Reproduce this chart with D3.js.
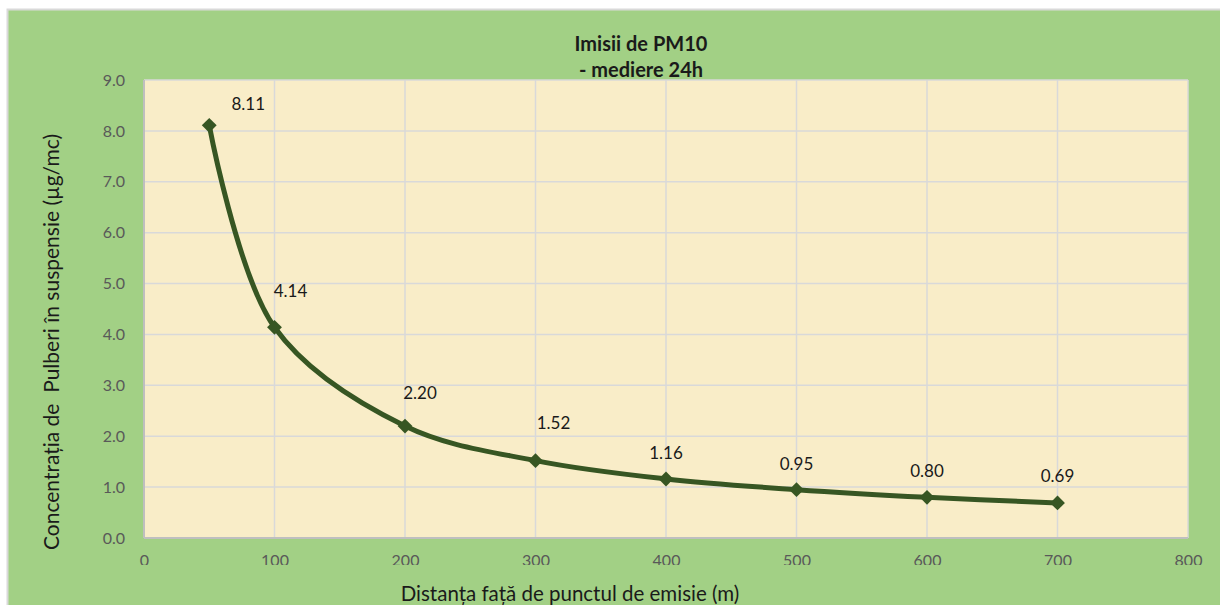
<!DOCTYPE html>
<html><head><meta charset="utf-8">
<script src="https://cdn.jsdelivr.net/npm/d3@7"></script>
<style>body{margin:0;background:#fff}</style>
</head><body>
<script>
const distances = [50, 100, 200, 300, 400, 500, 600, 700];
const concentrations = [8.11, 4.14, 2.20, 1.52, 1.16, 0.95, 0.80, 0.69];
const xTicks = [0, 100, 200, 300, 400, 500, 600, 700, 800];
const yTicks = [0, 1, 2, 3, 4, 5, 6, 7, 8, 9];
const titleLines = ["Imisii de PM10", "- mediere 24h"];
const xTitle = "Distanța față de punctul de emisie (m)";
const yTitle = "Concentrația de  Pulberi în suspensie (µg/mc)";
// label offsets (style only, pixels)
const labelDx = [39, 16, 15, 18, 0, 0, 0, 0];
const labelDy = [-21, -36, -33, -38, -26, -26, -26, -27];

const W = 1220, H = 605;
const svg = d3.select("body").append("svg").attr("width", W).attr("height", H)
  .style("font-family", "Lato, 'Open Sans', sans-serif");

svg.append("rect").attr("x", 7.5).attr("y", 9.5).attr("width", W).attr("height", H)
  .attr("fill", "#a2d085").attr("stroke", "#d9d9d9").attr("stroke-width", 2);

const L = 144, R = 1188, T = 80, B = 538;
const x = d3.scaleLinear().domain([0, 800]).range([L, R]);
const y = d3.scaleLinear().domain([0, 9]).range([B, T]);

svg.append("rect").attr("x", L).attr("y", T).attr("width", R - L).attr("height", B - T).attr("fill", "#f9edc8");

// gridlines
svg.append("g").selectAll("line").data(yTicks).join("line")
  .attr("x1", L).attr("x2", R).attr("y1", d => y(d)).attr("y2", d => y(d))
  .attr("stroke", "#d9d9d9").attr("stroke-width", 1.5);
svg.append("g").selectAll("line").data(xTicks).join("line")
  .attr("y1", T).attr("y2", B).attr("x1", d => x(d)).attr("x2", d => x(d))
  .attr("stroke", "#d9d9d9").attr("stroke-width", 1.5);
// axis lines
svg.append("line").attr("x1", L).attr("x2", R).attr("y1", B).attr("y2", B).attr("stroke", "#bfbfbf").attr("stroke-width", 2);
svg.append("line").attr("x1", L).attr("x2", L).attr("y1", T).attr("y2", B).attr("stroke", "#bfbfbf").attr("stroke-width", 2);

// axes via d3 axis generators
const yAxis = svg.append("g").attr("transform", `translate(${L},0)`)
  .call(d3.axisLeft(y).tickValues(yTicks).tickFormat(d3.format(".1f")).tickSize(0).tickPadding(19));
yAxis.select(".domain").remove();
yAxis.selectAll("text").attr("fill", "#595959").style("font-size", "16px").style("font-family", "Lato, sans-serif");

svg.append("clipPath").attr("id", "xclip").append("rect").attr("x", 0).attr("y", 0).attr("width", W).attr("height", 565);
const xAxis = svg.append("g").attr("clip-path", "url(#xclip)").append("g").attr("transform", `translate(0,${B})`)
  .call(d3.axisBottom(x).tickValues(xTicks).tickSize(0).tickPadding(17));
xAxis.select(".domain").remove();
xAxis.selectAll("text").attr("fill", "#595959").style("font-size", "16px").style("font-family", "Lato, sans-serif");

// title
svg.append("text").attr("x", 641).attr("y", 51).attr("text-anchor", "middle")
  .style("font-size", "20px").style("font-weight", "bold").attr("fill", "#1a1a1a")
  .selectAll("tspan").data(titleLines).join("tspan").attr("x", 641).attr("dy", (d, i) => i ? 26 : 0).text(d => d);

svg.append("text").attr("x", 570).attr("y", 601).attr("text-anchor", "middle")
  .style("font-size", "20.5px").attr("fill", "#1a1a1a").text(xTitle);
svg.append("text").attr("transform", "translate(59,342) rotate(-90)").attr("text-anchor", "middle")
  .style("font-size", "21px").style("white-space", "pre").attr("xml:space", "preserve").attr("fill", "#1a1a1a").text(yTitle);

const pts = distances.map((d, i) => [d, concentrations[i]]);
const line = d3.line().x(d => x(d[0])).y(d => y(d[1])).curve(d3.curveCatmullRom.alpha(0.5));
svg.append("path").datum(pts).attr("d", line).attr("fill", "none")
  .attr("stroke", "#375623").attr("stroke-width", 5).attr("stroke-linejoin", "round");

svg.append("g").selectAll("path").data(pts).join("path")
  .attr("d", d3.symbol(d3.symbolDiamond2, 140))
  .attr("transform", d => `translate(${x(d[0])},${y(d[1])})`)
  .attr("fill", "#375623");

svg.append("g").selectAll("text").data(pts).join("text")
  .attr("x", (d, i) => x(d[0]) + labelDx[i]).attr("y", (d, i) => y(d[1]) + labelDy[i] + 6)
  .attr("text-anchor", "middle").style("font-size", "17px").attr("fill", "#1a1a1a")
  .text(d => d[1].toFixed(2));
</script>
</body></html>
